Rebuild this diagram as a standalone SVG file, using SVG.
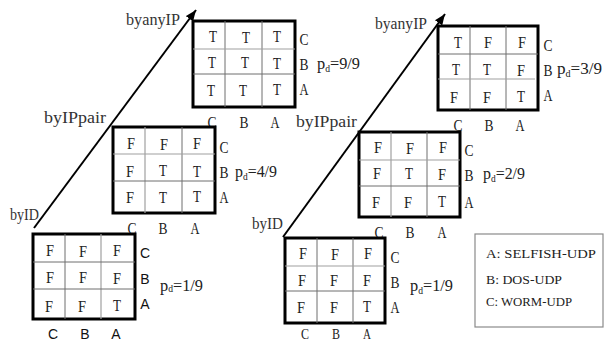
<svg xmlns="http://www.w3.org/2000/svg" width="604" height="344" viewBox="0 0 604 344">
  <style>
    .box { fill: #ffffff; stroke: #000000; stroke-width: 3; }
    .in { stroke: #6e6e6e; stroke-width: 1; fill: none; }
    .ing { stroke: #a0a0a0; stroke-width: 1.2; fill: none; }
    .cell { font-family: "Liberation Serif", "DejaVu Serif", serif; font-size: 16px; fill: #222222; text-anchor: middle; }
    .lab { font-family: "Liberation Serif", "DejaVu Serif", serif; font-size: 17px; fill: #222222; text-anchor: middle; }
    .labb { font-family: "Liberation Serif", "DejaVu Serif", serif; font-size: 15px; fill: #222222; text-anchor: middle; }
    .labs { font-family: "Liberation Sans", Arial, sans-serif; font-size: 14px; fill: #111111; text-anchor: middle; }
    .pd { font-family: "Liberation Serif", "DejaVu Serif", serif; font-size: 17px; fill: #222222; }
    .sub { font-size: 10px; }
    .axis { font-family: "Liberation Serif", "DejaVu Serif", serif; font-size: 16px; fill: #333333; }
    .conn { stroke: #000000; stroke-width: 2; fill: none; marker-end: url(#arrow); }
    .legend { fill: #ffffff; stroke: #8a8a8a; stroke-width: 1.2; }
    .legtext { font-family: "Liberation Serif", "DejaVu Serif", serif; font-size: 13.5px; fill: #222222; }
  </style>
  <defs>
    <marker id="arrow" markerUnits="userSpaceOnUse" markerWidth="12" markerHeight="10" refX="11" refY="4.5" orient="auto">
      <path d="M0,0 L11,4.5 L0,9 z" fill="#000000"/>
    </marker>
  </defs>

  <!-- axes with level captions -->
  <g id="connectors">
    <line class="conn" x1="34" y1="228" x2="196" y2="10"/>
    <line class="conn" x1="283" y1="237" x2="445" y2="14"/>
    <text class="axis" x="126" y="25" textLength="54" lengthAdjust="spacingAndGlyphs">byanyIP</text>
    <text class="axis" x="44" y="123" textLength="62" lengthAdjust="spacingAndGlyphs">byIPpair</text>
    <text class="axis" x="10" y="220" textLength="29" lengthAdjust="spacingAndGlyphs">byID</text>
    <text class="axis" x="375" y="29" textLength="52" lengthAdjust="spacingAndGlyphs">byanyIP</text>
    <text class="axis" x="296" y="127" textLength="61" lengthAdjust="spacingAndGlyphs">byIPpair</text>
    <text class="axis" x="252" y="229" textLength="31" lengthAdjust="spacingAndGlyphs">byID</text>
  </g>

  <!-- left column: byanyIP -->
  <g id="grid-left-anyip">
    <rect class="box" x="193" y="21" width="102" height="86"/>
    <line class="in" x1="225" y1="21" x2="225" y2="107"/>
    <line class="in" x1="262" y1="21" x2="262" y2="107"/>
    <line class="ing" x1="193" y1="49" x2="295" y2="49"/>
    <line class="in" x1="193" y1="74" x2="295" y2="74"/>
    <text class="cell" x="213" y="42" textLength="8" lengthAdjust="spacingAndGlyphs">T</text><text class="cell" x="246" y="43" textLength="8" lengthAdjust="spacingAndGlyphs">T</text><text class="cell" x="277" y="42" textLength="8" lengthAdjust="spacingAndGlyphs">T</text>
    <text class="cell" x="212" y="68" textLength="8" lengthAdjust="spacingAndGlyphs">T</text><text class="cell" x="245" y="68" textLength="8" lengthAdjust="spacingAndGlyphs">T</text><text class="cell" x="277" y="69" textLength="8" lengthAdjust="spacingAndGlyphs">T</text>
    <text class="cell" x="211" y="96" textLength="8" lengthAdjust="spacingAndGlyphs">T</text><text class="cell" x="243" y="96" textLength="8" lengthAdjust="spacingAndGlyphs">T</text><text class="cell" x="277" y="95" textLength="8" lengthAdjust="spacingAndGlyphs">T</text>
    <text class="lab" x="304" y="45" textLength="9" lengthAdjust="spacingAndGlyphs">C</text>
    <text class="lab" x="304" y="70" textLength="9" lengthAdjust="spacingAndGlyphs">B</text>
    <text class="lab" x="304" y="95" textLength="9" lengthAdjust="spacingAndGlyphs">A</text>
    <text class="pd" x="317" y="69" textLength="43" lengthAdjust="spacingAndGlyphs">p<tspan class="sub" dy="3">d</tspan><tspan dy="-3">=9/9</tspan></text>
    <text class="lab" x="212" y="128" textLength="9" lengthAdjust="spacingAndGlyphs">C</text>
    <text class="lab" x="244" y="128" textLength="9" lengthAdjust="spacingAndGlyphs">B</text>
    <text class="lab" x="275" y="128" textLength="9" lengthAdjust="spacingAndGlyphs">A</text>
  </g>

  <!-- left column: byIPpair -->
  <g id="grid-left-ippair">
    <rect class="box" x="113" y="127" width="102" height="86"/>
    <line class="ing" x1="145" y1="127" x2="145" y2="213"/>
    <line class="in" x1="182" y1="127" x2="182" y2="213"/>
    <line class="ing" x1="113" y1="154" x2="215" y2="154"/>
    <line class="in" x1="113" y1="181" x2="215" y2="181"/>
    <text class="cell" x="131" y="149" textLength="8" lengthAdjust="spacingAndGlyphs">F</text><text class="cell" x="164" y="150" textLength="8" lengthAdjust="spacingAndGlyphs">F</text><text class="cell" x="197" y="149" textLength="8" lengthAdjust="spacingAndGlyphs">F</text>
    <text class="cell" x="130" y="177" textLength="8" lengthAdjust="spacingAndGlyphs">F</text><text class="cell" x="163" y="176" textLength="8" lengthAdjust="spacingAndGlyphs">T</text><text class="cell" x="197" y="177" textLength="8" lengthAdjust="spacingAndGlyphs">T</text>
    <text class="cell" x="130" y="203" textLength="8" lengthAdjust="spacingAndGlyphs">F</text><text class="cell" x="163" y="203" textLength="8" lengthAdjust="spacingAndGlyphs">T</text><text class="cell" x="197" y="202" textLength="8" lengthAdjust="spacingAndGlyphs">T</text>
    <text class="lab" x="224" y="153" textLength="9" lengthAdjust="spacingAndGlyphs">C</text>
    <text class="lab" x="224" y="178" textLength="9" lengthAdjust="spacingAndGlyphs">B</text>
    <text class="lab" x="224" y="203" textLength="9" lengthAdjust="spacingAndGlyphs">A</text>
    <text class="pd" x="235" y="177" textLength="42" lengthAdjust="spacingAndGlyphs">p<tspan class="sub" dy="3">d</tspan><tspan dy="-3">=4/9</tspan></text>
    <text class="lab" x="132" y="234" textLength="9" lengthAdjust="spacingAndGlyphs">C</text>
    <text class="lab" x="163" y="234" textLength="9" lengthAdjust="spacingAndGlyphs">B</text>
    <text class="lab" x="195" y="234" textLength="9" lengthAdjust="spacingAndGlyphs">A</text>
  </g>

  <!-- left column: byID -->
  <g id="grid-left-id">
    <rect class="box" x="33" y="234" width="102" height="85"/>
    <line class="in" x1="65" y1="234" x2="65" y2="319"/>
    <line class="ing" x1="101" y1="234" x2="101" y2="319"/>
    <line class="in" x1="33" y1="262" x2="135" y2="262"/>
    <line class="in" x1="33" y1="289" x2="135" y2="289"/>
    <text class="cell" x="50" y="256" textLength="8" lengthAdjust="spacingAndGlyphs">F</text><text class="cell" x="83" y="257" textLength="8" lengthAdjust="spacingAndGlyphs">F</text><text class="cell" x="117" y="256" textLength="8" lengthAdjust="spacingAndGlyphs">F</text>
    <text class="cell" x="50" y="283" textLength="8" lengthAdjust="spacingAndGlyphs">F</text><text class="cell" x="83" y="283" textLength="8" lengthAdjust="spacingAndGlyphs">F</text><text class="cell" x="117" y="284" textLength="8" lengthAdjust="spacingAndGlyphs">F</text>
    <text class="cell" x="49" y="312" textLength="8" lengthAdjust="spacingAndGlyphs">F</text><text class="cell" x="82" y="312" textLength="8" lengthAdjust="spacingAndGlyphs">F</text><text class="cell" x="117" y="311" textLength="8" lengthAdjust="spacingAndGlyphs">T</text>
    <text class="labs" x="145" y="258">C</text>
    <text class="labs" x="145" y="284">B</text>
    <text class="labs" x="145" y="309">A</text>
    <text class="pd" x="160" y="291" textLength="43" lengthAdjust="spacingAndGlyphs">p<tspan class="sub" dy="1">d</tspan><tspan dy="-1">=1/9</tspan></text>
    <text class="labs" x="53" y="339">C</text>
    <text class="labs" x="85" y="339">B</text>
    <text class="labs" x="116" y="339">A</text>
  </g>

  <!-- right column: byanyIP -->
  <g id="grid-right-anyip">
    <rect class="box" x="438" y="26" width="100" height="84"/>
    <line class="in" x1="470" y1="26" x2="470" y2="110"/>
    <line class="in" x1="506" y1="26" x2="506" y2="110"/>
    <line class="in" x1="438" y1="54" x2="538" y2="54"/>
    <line class="ing" x1="438" y1="79" x2="535" y2="79"/>
    <text class="cell" x="458" y="48" textLength="8" lengthAdjust="spacingAndGlyphs">T</text><text class="cell" x="488" y="48" textLength="8" lengthAdjust="spacingAndGlyphs">F</text><text class="cell" x="522" y="48" textLength="8" lengthAdjust="spacingAndGlyphs">F</text>
    <text class="cell" x="456" y="75" textLength="8" lengthAdjust="spacingAndGlyphs">T</text><text class="cell" x="487" y="75" textLength="8" lengthAdjust="spacingAndGlyphs">T</text><text class="cell" x="521" y="76" textLength="8" lengthAdjust="spacingAndGlyphs">F</text>
    <text class="cell" x="454" y="103" textLength="8" lengthAdjust="spacingAndGlyphs">F</text><text class="cell" x="487" y="103" textLength="8" lengthAdjust="spacingAndGlyphs">F</text><text class="cell" x="521" y="102" textLength="8" lengthAdjust="spacingAndGlyphs">T</text>
    <text class="lab" x="548" y="51" textLength="9" lengthAdjust="spacingAndGlyphs">C</text>
    <text class="lab" x="548" y="76" textLength="9" lengthAdjust="spacingAndGlyphs">B</text>
    <text class="lab" x="548" y="101" textLength="9" lengthAdjust="spacingAndGlyphs">A</text>
    <text class="pd" x="557" y="74" textLength="45" lengthAdjust="spacingAndGlyphs">p<tspan class="sub" dy="3">d</tspan><tspan dy="-3">=3/9</tspan></text>
    <text class="lab" x="458" y="131" textLength="9" lengthAdjust="spacingAndGlyphs">C</text>
    <text class="lab" x="489" y="131" textLength="9" lengthAdjust="spacingAndGlyphs">B</text>
    <text class="lab" x="520" y="131" textLength="9" lengthAdjust="spacingAndGlyphs">A</text>
  </g>

  <!-- right column: byIPpair -->
  <g id="grid-right-ippair">
    <rect class="box" x="359" y="132" width="101" height="85"/>
    <line class="ing" x1="391" y1="132" x2="391" y2="217"/>
    <line class="in" x1="427" y1="132" x2="427" y2="217"/>
    <line class="ing" x1="359" y1="160" x2="460" y2="160"/>
    <line class="in" x1="359" y1="186" x2="460" y2="186"/>
    <text class="cell" x="378" y="153" textLength="8" lengthAdjust="spacingAndGlyphs">F</text><text class="cell" x="410" y="154" textLength="8" lengthAdjust="spacingAndGlyphs">F</text><text class="cell" x="443" y="153" textLength="8" lengthAdjust="spacingAndGlyphs">F</text>
    <text class="cell" x="377" y="179" textLength="8" lengthAdjust="spacingAndGlyphs">F</text><text class="cell" x="409" y="179" textLength="8" lengthAdjust="spacingAndGlyphs">T</text><text class="cell" x="442" y="180" textLength="8" lengthAdjust="spacingAndGlyphs">F</text>
    <text class="cell" x="376" y="208" textLength="8" lengthAdjust="spacingAndGlyphs">F</text><text class="cell" x="408" y="208" textLength="8" lengthAdjust="spacingAndGlyphs">F</text><text class="cell" x="442" y="207" textLength="8" lengthAdjust="spacingAndGlyphs">T</text>
    <text class="lab" x="469" y="156" textLength="9" lengthAdjust="spacingAndGlyphs">C</text>
    <text class="lab" x="469" y="181" textLength="9" lengthAdjust="spacingAndGlyphs">B</text>
    <text class="lab" x="469" y="208" textLength="9" lengthAdjust="spacingAndGlyphs">A</text>
    <text class="pd" x="483" y="179" textLength="42" lengthAdjust="spacingAndGlyphs">p<tspan class="sub" dy="3">d</tspan><tspan dy="-3">=2/9</tspan></text>
    <text class="lab" x="379" y="238" textLength="9" lengthAdjust="spacingAndGlyphs">C</text>
    <text class="lab" x="410" y="238" textLength="9" lengthAdjust="spacingAndGlyphs">B</text>
    <text class="lab" x="442" y="238" textLength="9" lengthAdjust="spacingAndGlyphs">A</text>
  </g>

  <!-- right column: byID -->
  <g id="grid-right-id">
    <rect class="box" x="285" y="238" width="100" height="85"/>
    <line class="in" x1="317" y1="238" x2="317" y2="323"/>
    <line class="in" x1="353" y1="238" x2="353" y2="323"/>
    <line class="ing" x1="285" y1="266" x2="385" y2="266"/>
    <line class="in" x1="285" y1="291" x2="385" y2="291"/>
    <text class="cell" x="303" y="259" textLength="8" lengthAdjust="spacingAndGlyphs">F</text><text class="cell" x="335" y="260" textLength="8" lengthAdjust="spacingAndGlyphs">F</text><text class="cell" x="368" y="259" textLength="8" lengthAdjust="spacingAndGlyphs">F</text>
    <text class="cell" x="302" y="286" textLength="8" lengthAdjust="spacingAndGlyphs">F</text><text class="cell" x="334" y="286" textLength="8" lengthAdjust="spacingAndGlyphs">F</text><text class="cell" x="367" y="286" textLength="8" lengthAdjust="spacingAndGlyphs">F</text>
    <text class="cell" x="301" y="313" textLength="8" lengthAdjust="spacingAndGlyphs">F</text><text class="cell" x="334" y="313" textLength="8" lengthAdjust="spacingAndGlyphs">F</text><text class="cell" x="367" y="312" textLength="8" lengthAdjust="spacingAndGlyphs">T</text>
    <text class="lab" x="395" y="263" textLength="9" lengthAdjust="spacingAndGlyphs">C</text>
    <text class="lab" x="395" y="288" textLength="9" lengthAdjust="spacingAndGlyphs">B</text>
    <text class="lab" x="395" y="313" textLength="9" lengthAdjust="spacingAndGlyphs">A</text>
    <text class="pd" x="410" y="291" textLength="43" lengthAdjust="spacingAndGlyphs">p<tspan class="sub" dy="3">d</tspan><tspan dy="-3">=1/9</tspan></text>
    <text class="labb" x="305" y="339" textLength="8" lengthAdjust="spacingAndGlyphs">C</text>
    <text class="labb" x="336" y="339" textLength="8" lengthAdjust="spacingAndGlyphs">B</text>
    <text class="labb" x="367" y="339" textLength="8" lengthAdjust="spacingAndGlyphs">A</text>
  </g>

  <!-- legend -->
  <g id="legend">
    <rect class="legend" x="475" y="234" width="128" height="93"/>
    <text class="legtext" x="486" y="258" textLength="110" lengthAdjust="spacingAndGlyphs">A: SELFISH-UDP</text>
    <text class="legtext" x="486" y="284" textLength="76" lengthAdjust="spacingAndGlyphs">B: DOS-UDP</text>
    <text class="legtext" x="486" y="306" textLength="86" lengthAdjust="spacingAndGlyphs">C: WORM-UDP</text>
  </g>
</svg>
